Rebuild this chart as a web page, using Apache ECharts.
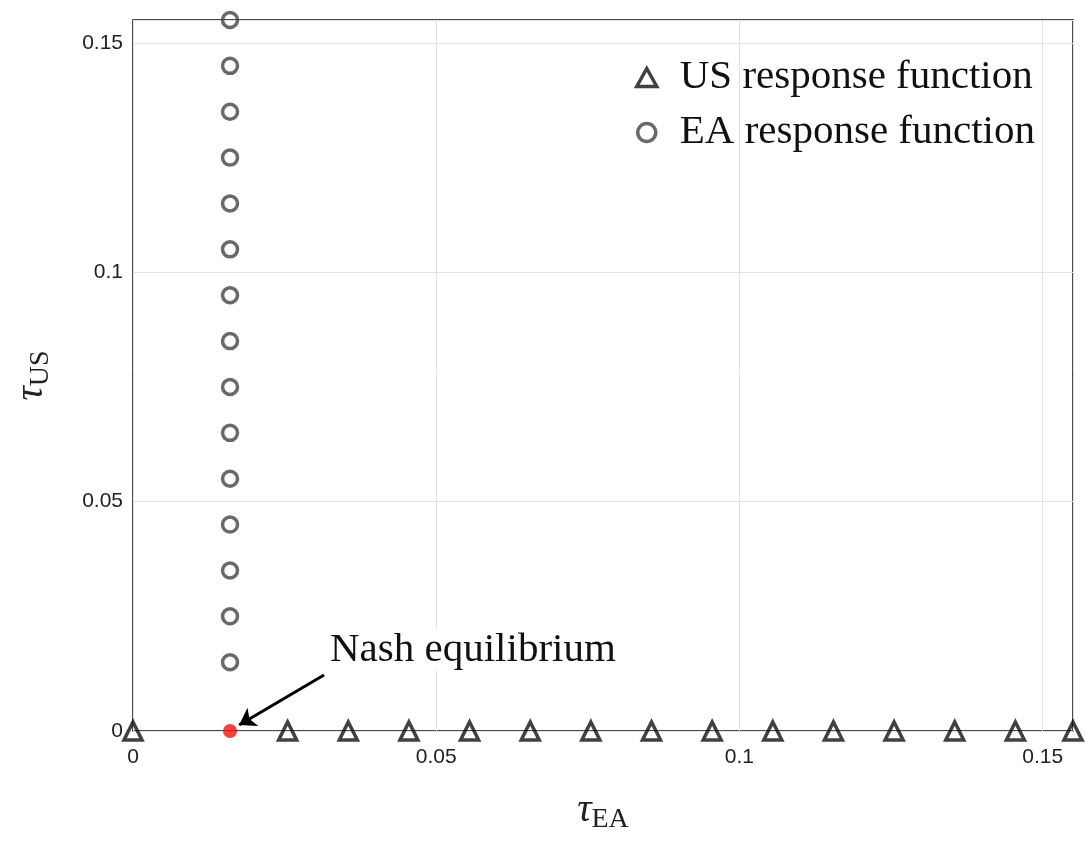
<!DOCTYPE html>
<html><head><meta charset="utf-8">
<script src="https://cdn.jsdelivr.net/npm/echarts@6/dist/echarts.min.js"></script>
<style>html,body{margin:0;background:#fff}#chart{width:1086px;height:854px}</style>
</head><body><div id="chart"></div>
<script>
var usX = [0, 0.0255, 0.0355, 0.0455, 0.0555, 0.0655, 0.0755, 0.0855, 0.0955, 0.1055, 0.1155, 0.1255, 0.1355, 0.1455, 0.155];
var eaY = [0.015, 0.025, 0.035, 0.045, 0.055, 0.065, 0.075, 0.085, 0.095, 0.105, 0.115, 0.125, 0.135, 0.145, 0.155];
var eaX = 0.016;
var nash = [0.016, 0];
var ticks = [0, 0.05, 0.1, 0.15];

var chart = echarts.init(document.getElementById('chart'));
var serif = 'Liberation Serif';
function tickFmt(v) {
  var r = Math.round(v * 100) / 100;
  return ticks.indexOf(r) >= 0 && Math.abs(v - r) < 1e-9 ? String(r) : '';
}
var nameRich = { t: { fontFamily: serif, fontSize: 40, fontStyle: 'italic', color: '#222' },
  s: { fontFamily: serif, fontSize: 28, color: '#222', padding: [20, 0, 0, 0] } };
chart.setOption({
  animation: false,
  grid: { left: 133, right: 13, top: 20, bottom: 123, show: true, borderColor: '#111', borderWidth: 1.5 },
  legend: {
    right: 46, top: 52, orient: 'vertical', itemGap: 14, itemWidth: 20, itemHeight: 18,
    textStyle: { fontFamily: serif, fontSize: 41, color: '#111', padding: [0, 0, 0, 18] },
    data: [
      { name: 'US response function', itemStyle: { color: 'transparent', borderColor: '#111', borderWidth: 3.5 } },
      { name: 'EA response function', itemStyle: { color: 'transparent', borderColor: '#444', borderWidth: 3.5 } }
    ]
  },
  xAxis: {
    type: 'value', min: 0, max: 0.155, interval: 0.05,
    axisLine: { show: false }, axisTick: { show: false },
    splitLine: { lineStyle: { color: '#e2e2e2' } },
    axisLabel: { fontFamily: 'Liberation Sans', fontSize: 21, color: '#222', margin: 16, formatter: tickFmt },
    name: '{t|τ}{s|EA}', nameLocation: 'middle', nameGap: 55, nameTextStyle: { rich: nameRich }
  },
  yAxis: {
    type: 'value', min: 0, max: 0.155, interval: 0.05,
    axisLine: { show: false }, axisTick: { show: false },
    splitLine: { lineStyle: { color: '#e2e2e2' } },
    axisLabel: { fontFamily: 'Liberation Sans', fontSize: 21, color: '#222', margin: 10, formatter: tickFmt },
    name: '{t|τ}{s|US}', nameLocation: 'middle', nameGap: 78, nameRotate: 90, nameTextStyle: { rich: nameRich }
  },
  series: [
    { name: 'US response function', type: 'scatter', symbol: 'triangle', symbolSize: 18,
      itemStyle: { color: 'transparent', borderColor: '#111', borderWidth: 3.5 },
      data: usX.map(function (x) { return [x, 0]; }) },
    { name: 'EA response function', type: 'scatter', symbol: 'circle', symbolSize: 15,
      itemStyle: { color: 'transparent', borderColor: '#444', borderWidth: 3.5 },
      data: eaY.map(function (y) { return [eaX, y]; }) },
    { name: 'Nash', type: 'scatter', symbolSize: 14, itemStyle: { color: '#ee1111' }, z: 5,
      data: [nash],
      markLine: { silent: true, symbol: ['none', 'arrow'], symbolSize: 16,
        lineStyle: { color: '#000', width: 3, type: 'solid' }, label: { show: false },
        data: [[{ coord: [0.0315, 0.0122] }, { coord: [0.0175, 0.0013] }]] } }
  ],
  graphic: [{ type: 'text', left: 330, top: 630, z: 10,
    style: { text: 'Nash equilibrium', font: '41px "Liberation Serif"', fill: '#111', backgroundColor: '#fff' } }]
});
</script></body></html>
